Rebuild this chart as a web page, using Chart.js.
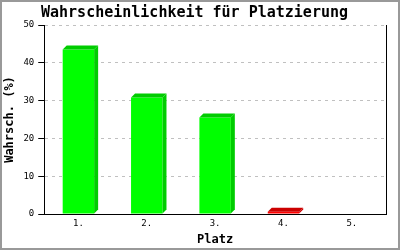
<!DOCTYPE html>
<html>
<head>
<meta charset="utf-8">
<script src="https://cdn.jsdelivr.net/npm/chart.js@4"></script>
<style>
  html, body { margin: 0; padding: 0; background: #fff; }
  #wrap { width: 400px; height: 250px; }
</style>
</head>
<body>
<div id="wrap"><canvas id="chart" width="400" height="250"></canvas></div>
<script>
// --- Data ---
const places = ['1.', '2.', '3.', '4.', '5.'];
const chances = [43.5, 30.8, 25.5, 0.6, 0];
const barColors = ['#00ff00', '#00ff00', '#00ff00', '#ff0000', '#00ff00'];
const sideColors = ['#00cc00', '#00cc00', '#00cc00', '#cc0000', '#00cc00'];
const yTicks = [0, 10, 20, 30, 40, 50];

const MONO = '"DejaVu Sans Mono", "Liberation Mono", monospace';

// background, outer frame, right border line and 3D bar faces
const framePlugin = {
    id: 'frame',
    beforeDraw(chart) {
        const ctx = chart.ctx;
        ctx.save();
        ctx.fillStyle = '#fff';
        ctx.fillRect(0, 0, chart.width, chart.height);
        ctx.restore();
    },
    afterDatasetsDraw(chart) {
        const ctx = chart.ctx;
        const meta = chart.getDatasetMeta(0);
        const d = 4;
        ctx.save();
        meta.data.forEach((bar, i) => {
            if (!chances[i]) return;
            const half = bar.width / 2;
            const left = bar.x - half, right = bar.x + half;
            const top = bar.y, base = bar.base;
            ctx.fillStyle = sideColors[i];
            // side
            ctx.beginPath();
            ctx.moveTo(right, top);
            ctx.lineTo(right + d, top - d);
            ctx.lineTo(right + d, base - d);
            ctx.lineTo(right, base);
            ctx.closePath();
            ctx.fill();
            // top
            ctx.beginPath();
            ctx.moveTo(left, top);
            ctx.lineTo(left + d, top - d);
            ctx.lineTo(right + d, top - d);
            ctx.lineTo(right, top);
            ctx.closePath();
            ctx.fill();
        });
        ctx.restore();
    },
    afterDraw(chart) {
        const ctx = chart.ctx;
        const a = chart.chartArea;
        ctx.save();
        ctx.strokeStyle = '#000';
        ctx.lineWidth = 1;
        ctx.beginPath();
        ctx.moveTo(Math.round(a.right) + 0.5, a.top);
        ctx.lineTo(Math.round(a.right) + 0.5, a.bottom);
        ctx.stroke();
        ctx.strokeStyle = '#999';
        ctx.lineWidth = 2;
        ctx.strokeRect(1, 1, chart.width - 2, chart.height - 2);
        ctx.restore();
    }
};

new Chart(document.getElementById('chart').getContext('2d'), {
    type: 'bar',
    data: {
        labels: places,
        datasets: [{
            data: chances,
            backgroundColor: barColors,
            borderWidth: 0,
            categoryPercentage: 1,
            barPercentage: 0.46
        }]
    },
    options: {
        responsive: false,
        animation: false,
        layout: { padding: { left: 3, right: 14, top: 4, bottom: 2 } },
        plugins: {
            legend: { display: false },
            tooltip: { enabled: false },
            title: {
                display: true,
                text: 'Wahrscheinlichkeit für Platzierung',
                color: '#000',
                font: { family: MONO, size: 15, weight: 'bold' },
                padding: { top: 0, bottom: 3 }
            }
        },
        scales: {
            x: {
                afterFit(scale) { scale.height = 34; },
                grid: { display: false, drawTicks: false },
                border: { display: true, color: '#000', width: 1 },
                ticks: {
                    color: '#000',
                    padding: 4,
                    font: { family: MONO, size: 9 }
                },
                title: {
                    display: true,
                    text: 'Platz',
                    color: '#000',
                    padding: { top: 2, bottom: 1 },
                    font: { family: MONO, size: 12, weight: 'bold' }
                }
            },
            y: {
                min: 0,
                max: 50,
                afterBuildTicks(scale) {
                    scale.ticks = yTicks.map(v => ({ value: v }));
                },
                grid: {
                    color: '#c0c0c0',
                    tickColor: '#000',
                    tickLength: 6,
                    drawTicks: true
                },
                border: { display: true, color: '#000', width: 1, dash: [3, 4] },
                ticks: {
                    color: '#000',
                    padding: 4,
                    font: { family: MONO, size: 9 }
                },
                title: {
                    display: true,
                    text: 'Wahrsch. (%)',
                    color: '#000',
                    padding: { top: 0, bottom: 2 },
                    font: { family: MONO, size: 12, weight: 'bold' }
                }
            }
        }
    },
    plugins: [framePlugin]
});
</script>
</body>
</html>
